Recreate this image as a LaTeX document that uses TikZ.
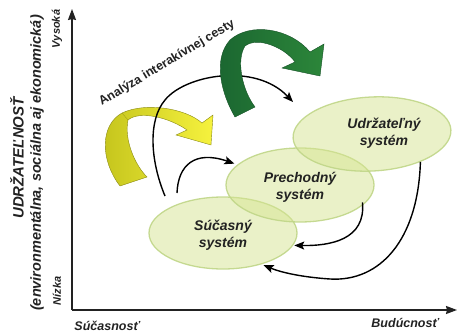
\documentclass[tikz,border=0pt]{standalone}
\usepackage{fontspec}
\setmainfont{Liberation Sans}
\usetikzlibrary{arrows.meta,shapes.geometric}
\definecolor{ellfill}{HTML}{D6E492}
\definecolor{elldraw}{HTML}{C0D688}
\definecolor{ylwA}{HTML}{C4C41C}
\definecolor{ylwB}{HTML}{F6F23E}
\definecolor{grnA}{HTML}{1A6530}
\definecolor{grnB}{HTML}{2C863A}
\definecolor{txt}{HTML}{222222}
\begin{document}
\begin{tikzpicture}[x=1pt,y=-1pt,
  axisline/.style={draw=txt,line width=1.6pt,-{Stealth[length=11pt,width=8pt,inset=1pt]}},
  flow/.style={draw=black,line width=1.4pt,-{Stealth[length=10pt,width=8pt,inset=2pt]}},
  ell/.style={ellipse,draw=elldraw,line width=1.3pt,fill=ellfill,fill opacity=0.5,draw opacity=0.9,inner sep=0pt},
  elltext/.style={text=txt,font=\bfseries\itshape\fontsize{14}{17}\selectfont,align=center},
  axlbl/.style={text=txt,font=\bfseries\itshape\fontsize{12.5}{15}\selectfont,inner sep=0pt},
  sidelbl/.style={text=txt,rotate=90,inner sep=0pt}]
\useasboundingbox (0,0) rectangle (457,334);
% axes
\coordinate (o) at (72,310);
\coordinate (yt) at (72,9);
\coordinate (xt) at (457,310);
\draw[axisline] (o) -- (yt);
\draw[axisline] (o) -- (xt);
% axis labels
\node[sidelbl,font=\bfseries\itshape\fontsize{15}{18}\selectfont] (ud) at (17,158) {UDRŽATEĽNOSŤ};
\node[sidelbl,font=\bfseries\itshape\fontsize{14.5}{17}\selectfont] (env) at (37,163) {(environmentálna, sociálna aj ekonomická)};
\node[sidelbl,font=\bfseries\itshape\fontsize{11}{13}\selectfont] (vy) at (57,29) {Vysoká};
\node[sidelbl,font=\bfseries\itshape\fontsize{11}{13}\selectfont] (ni) at (57,291) {Nízka};
\node[axlbl] (sn) at (107,326) {Súčasnosť};
\node[axlbl] (bu) at (405,323) {Budúcnosť};
\node[text=txt,font=\bfseries\fontsize{12.5}{15}\selectfont,rotate=31,inner sep=0pt] (an) at (167,63) {Analýza interakívnej cesty};
% yellow arrow
\path[left color=ylwA,right color=ylwB,draw=ylwA!70!black,line width=0.4pt]
  (120,186) .. controls (100,160) and (100,125) .. (122,113)
  .. controls (145,102) and (185,108) .. (202,123)
  -- (213,115) -- (211,145) -- (176,135) -- (187,130)
  .. controls (170,118) and (140,110) .. (128,120)
  .. controls (124,140) and (135,165) .. (147,177) -- cycle;
\draw[ylwA!60!black,line width=0.3pt,opacity=0.6] (122,113) -- (128,120);
% black flow 1 (behind green arrow)
\coordinate (a1s) at (165,196);
\coordinate (a1e) at (293,102);
\draw[flow] (a1s) .. controls (150,160) and (148,120) .. (165,100)
  .. controls (185,75) and (255,62) .. (a1e);
% green arrow
\path[left color=grnA,right color=grnB,draw=grnA!80!black,line width=0.4pt]
  (235,117) .. controls (222,95) and (212,60) .. (230,40)
  .. controls (250,22) and (290,28) .. (310,52)
  -- (324,44) -- (320,76) -- (282,68) -- (295,62)
  .. controls (285,48) and (258,36) .. (245,46)
  .. controls (236,60) and (242,90) .. (255,107) -- cycle;
% ellipses
\node[ell,minimum width=148pt,minimum height=72pt] (sa) at (223,233) {};
\node[ell,minimum width=148pt,minimum height=74pt] (pr) at (300,185) {};
\node[ell,minimum width=158pt,minimum height=74pt,rotate=3] (ue) at (372,134) {};
\node[elltext] (sat) at (223,235) {Súčasný\\systém};
\node[elltext] (prt) at (300,187) {Prechodný\\systém};
\node[elltext] (uet) at (384,133) {Udržateľný\\systém};
% black flows
\coordinate (a2s) at (177,193);
\draw[flow,shorten >=3pt] (a2s) .. controls (178,165) and (195,150) .. (pr.162);
\draw[flow,shorten <=-3pt,shorten >=1pt] (pr.-18) .. controls (366,240) and (330,246) .. (sa.-10);
\draw[flow,shorten >=2pt] (ue.-33) .. controls (418,240) and (380,282) .. (330,279)
  .. controls (300,277) and (280,272) .. (sa.-39);
\end{tikzpicture}
\end{document}
